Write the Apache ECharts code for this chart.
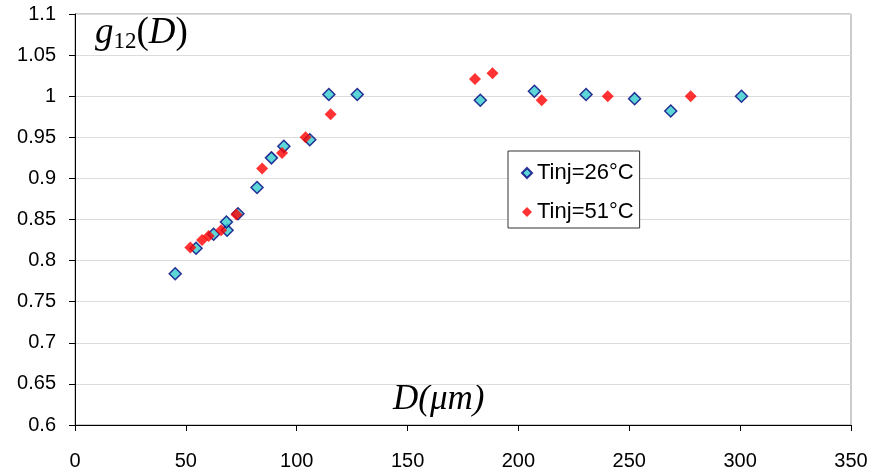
<!DOCTYPE html>
<html>
<head>
<meta charset="utf-8">
<script src="https://cdn.jsdelivr.net/npm/echarts@6/dist/echarts.min.js"></script>
<style>html,body{margin:0;padding:0;background:#fff}#c{width:875px;height:475px}</style>
</head>
<body>
<div id="c"></div>
<script>
const seriesNames = ['Tinj=26°C', 'Tinj=51°C'];
const d26x = [45.2, 54.6, 62.5, 68.6, 68.3, 73.5, 82.1, 88.6, 94.2, 105.9, 114.5, 127.3, 182.8, 207.2, 230.5, 252.4, 268.7, 300.6];
const d26y = [0.784, 0.815, 0.832, 0.837, 0.847, 0.857, 0.889, 0.925, 0.939, 0.947, 1.002, 1.002, 0.995, 1.006, 1.002, 0.997, 0.982, 1.000];
const d51x = [52.0, 57.3, 60.3, 65.9, 72.8, 84.4, 93.4, 104.0, 115.3, 180.4, 188.3, 210.5, 240.3, 277.7];
const d51y = [0.816, 0.825, 0.830, 0.837, 0.856, 0.912, 0.931, 0.950, 0.978, 1.021, 1.028, 0.995, 1.000, 1.000];
const xTicks = { min: 0, max: 350, interval: 50 };
const yTicks = { min: 0.6, max: 1.1, interval: 0.05 };

const zip = (xs, ys) => xs.map((x, i) => [x, ys[i]]);
const chart = echarts.init(document.getElementById('c'), null, { renderer: 'canvas' });
const labelFont = { fontFamily: 'Liberation Sans, Arial, sans-serif', fontSize: 20, color: '#000' };
const serif = 'Liberation Serif, Times New Roman, serif';
chart.setOption({
  animation: false,
  backgroundColor: '#fff',
  grid: { left: 75, right: 24, top: 14, bottom: 50, show: true, borderColor: '#999', borderWidth: 1, backgroundColor: 'transparent' },
  xAxis: {
    type: 'value', min: xTicks.min, max: xTicks.max, interval: xTicks.interval,
    axisLine: { show: true, onZero: false, lineStyle: { color: '#000', width: 1 } },
    axisTick: { show: true, inside: false, length: 6, lineStyle: { color: '#000' } },
    axisLabel: Object.assign({ margin: 26 }, labelFont),
    splitLine: { show: false }
  },
  yAxis: {
    type: 'value', min: yTicks.min, max: yTicks.max, interval: yTicks.interval,
    axisLine: { show: true, onZero: false, lineStyle: { color: '#000', width: 1 } },
    axisTick: { show: true, inside: false, length: 6, lineStyle: { color: '#000' } },
    axisLabel: Object.assign({ margin: 19, formatter: v => String(+v.toFixed(2)) }, labelFont),
    splitLine: { show: true, lineStyle: { color: '#dcdcdc', width: 1 } }
  },
  legend: {
    left: 508, top: 151, orient: 'vertical', itemGap: 17,
    backgroundColor: '#fff', borderColor: '#333', borderWidth: 1,
    padding: [11, 6, 5, 13], itemWidth: 10, itemHeight: 10,
    textStyle: { fontFamily: 'Liberation Sans, Arial, sans-serif', fontSize: 22, color: '#000' },
    data: seriesNames
  },
  graphic: [
    { type: 'text', left: 95, top: 15, style: {
      text: '{g|g}{s|12}{p|(}{g|D}{p|)}',
      rich: {
        g: { fontFamily: serif, fontStyle: 'italic', fontSize: 37, fill: '#000' },
        s: { fontFamily: serif, fontSize: 23, fill: '#000', verticalAlign: 'bottom', padding: [16, 0, 0, 0] },
        p: { fontFamily: serif, fontSize: 37, fill: '#000' }
      } } },
    { type: 'text', left: 393, top: 382, style: {
      text: 'D(μm)', fontFamily: serif, fontStyle: 'italic', fontSize: 35, fill: '#000' } }
  ],
  series: [
    { name: seriesNames[0], type: 'scatter', symbol: 'diamond', symbolSize: 12,
      itemStyle: { color: '#33CCCC', borderColor: '#000080', borderWidth: 1.5 },
      data: zip(d26x, d26y) },
    { name: seriesNames[1], type: 'scatter', symbol: 'diamond', symbolSize: 12,
      itemStyle: { color: '#FF0000' },
      data: zip(d51x, d51y) }
  ]
});
</script>
</body>
</html>
